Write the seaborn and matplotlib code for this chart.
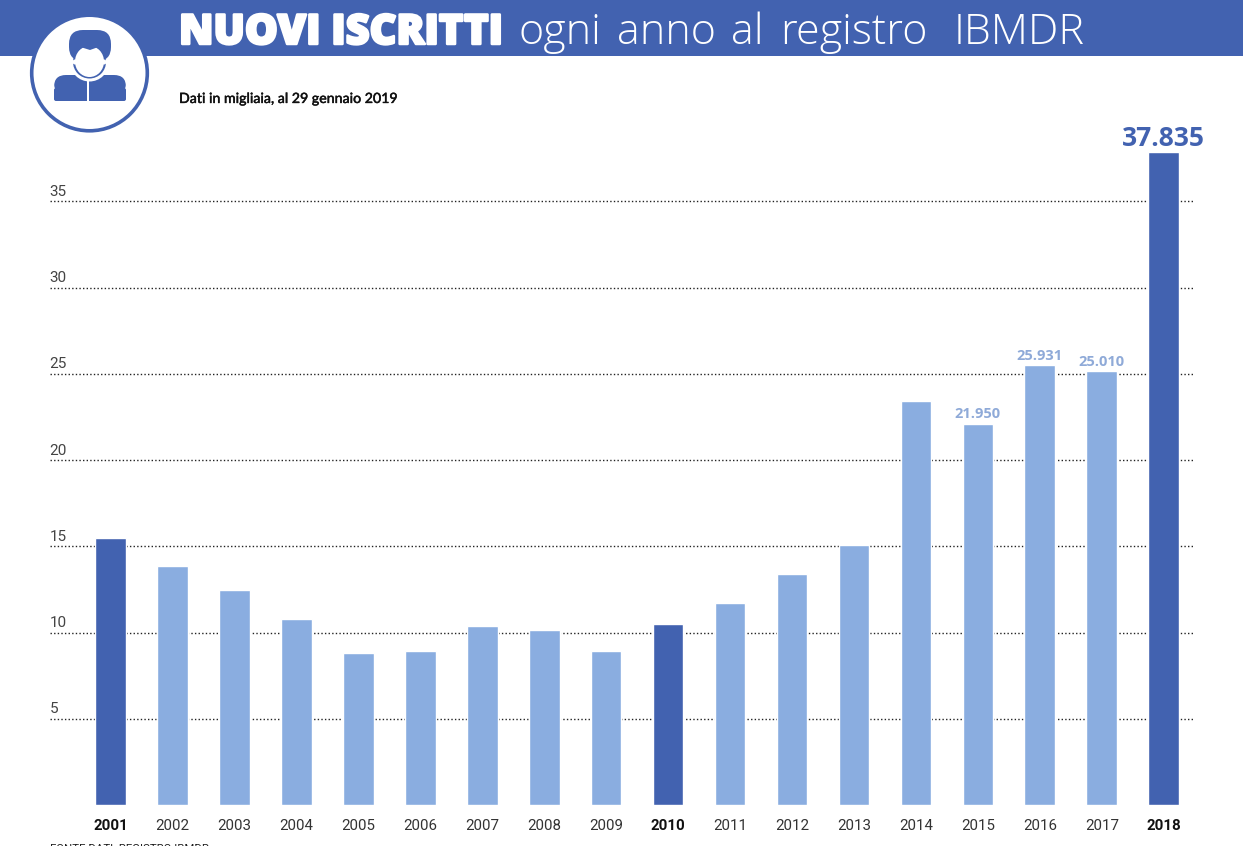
import matplotlib
matplotlib.use("Agg")
import matplotlib.pyplot as plt
import matplotlib.patches as mp
import matplotlib.patheffects as pe
from matplotlib.transforms import ScaledTranslation
import pandas as pd
import seaborn as sns

years = ["2001","2002","2003","2004","2005","2006","2007","2008","2009","2010","2011","2012","2013","2014","2015","2016","2017","2018"]
values = [15.46,13.83,12.44,10.76,8.79,8.90,10.35,10.12,8.90,10.47,11.69,13.37,15.10,23.40,22.10,25.50,25.15,37.86]
highlight_years = ["2001","2010","2018"]
y_ticks = [5,10,15,20,25,30,35]
value_labels = {"2015":"21.950","2016":"25.931","2017":"25.010"}
top_label = "37.835"
title_bold = "NUOVI ISCRITTI"
title_light = "ogni anno al registro IBMDR"
subtitle = "Dati in migliaia, al 29 gennaio 2019"
source = "FONTE DATI: REGISTRO IBMDR"

DARK = "#4262B0"
LIGHT = "#8AADE0"
W, H = 1243, 846

sns.set_theme(style="white")
plt.rcParams["font.family"] = ["Roboto", "DejaVu Sans"]

fig = plt.figure(figsize=(W/100, H/100), dpi=100, facecolor="white")

bg = fig.add_axes([0, 0, 1, 1], zorder=0)
bg.set_xlim(0, W); bg.set_ylim(H, 0); bg.axis("off")
bg.add_patch(mp.Rectangle((0, 0), W, 56, color=DARK, lw=0))

ax = fig.add_axes([49.5/W, (H-804.9)/H, (1195-49.5)/W, (804.9-145)/H], zorder=1)
ax.patch.set_alpha(0)
df = pd.DataFrame({"year": years, "value": values})
palette = {y: (DARK if y in highlight_years else LIGHT) for y in years}
sns.barplot(data=df, x="year", y="value", hue="year", palette=palette, legend=False,
            width=0.495, dodge=False, saturation=1, ax=ax, zorder=3)
ax.set_xlim(-0.985, 17.505)
ax.set_ylim(0, (804.9-145)/17.24)
ax.set_xlabel(""); ax.set_ylabel("")
sns.despine(ax=ax, left=True, bottom=True)
ax.set_yticks(y_ticks)
ax.set_yticklabels([str(t) for t in y_ticks])
ax.yaxis.grid(True, linestyle=(0, (1, 1.6)), color="#222222", linewidth=1.0, zorder=1)
ax.set_axisbelow(True)
ax.tick_params(axis="y", length=0, pad=0, labelsize=11, labelcolor="#444444")
lift = ScaledTranslation(0, 2.5/100, fig.dpi_scale_trans)
for t in ax.get_yticklabels():
    t.set_ha("left"); t.set_va("bottom")
    t.set_transform(t.get_transform() + lift)
ax.tick_params(axis="x", length=0, pad=10, labelsize=10.8, labelcolor="#333333")
for t in ax.get_xticklabels():
    if t.get_text() in highlight_years:
        t.set_fontweight("bold"); t.set_color("#111111")

for i, y in enumerate(years):
    if y in value_labels:
        ax.annotate(value_labels[y], (i, values[i]), xytext=(0, 2), textcoords="offset points",
                    ha="center", va="bottom", fontsize=10.5, fontweight="bold", color="#8FAAD8",
                    family=["Open Sans", "DejaVu Sans"], zorder=5)
ax.annotate(top_label, (17, values[-1]), xytext=(0, 0), textcoords="offset points",
            ha="center", va="bottom", fontsize=19, fontweight="bold", color=DARK,
            family=["Open Sans", "DejaVu Sans"], annotation_clip=False, zorder=5)

fg = fig.add_axes([0, 0, 1, 1], zorder=2)
fg.set_xlim(0, W); fg.set_ylim(H, 0); fg.axis("off"); fg.patch.set_alpha(0)
fg.add_patch(mp.Circle((89.5, 73), 57.8, facecolor="white", edgecolor=DARK, lw=2.6))
# shoulders
fg.add_patch(mp.FancyBboxPatch((54, 75), 72, 20, boxstyle="round,pad=0,rounding_size=12", color=DARK, lw=0))
fg.add_patch(mp.FancyBboxPatch((54, 88), 72, 13, boxstyle="round,pad=0,rounding_size=2", color=DARK, lw=0))
fg.add_patch(mp.Rectangle((87.5, 80), 1.6, 21, color="white", lw=0))
# head
fg.add_patch(mp.Ellipse((89.5, 63), 38, 37, color="white", lw=0))
fg.add_patch(mp.FancyBboxPatch((69, 30), 42, 31, boxstyle="round,pad=0,rounding_size=14", color=DARK, lw=0))
fg.add_patch(mp.Ellipse((89.5, 62), 33, 33, color=DARK, lw=0))
fg.add_patch(mp.Ellipse((89.5, 61.5), 29, 31, color="white", lw=0))
fg.add_patch(mp.Circle((75, 62), 2.5, color="white", lw=0))
fg.add_patch(mp.Circle((104, 62), 2.5, color="white", lw=0))
fg.add_patch(mp.Polygon([(74, 54), (82, 47.5), (90, 50), (97, 47.5), (105, 54), (105, 42), (74, 42)], color=DARK, lw=0))

def ptext(x, y, s, **kw):
    return fg.text(x, y, s, va="baseline", **kw)

ptext(179, 44, title_bold, color="white", fontsize=29.8, fontweight=800,
      family=["Open Sans", "DejaVu Sans"], path_effects=[pe.withStroke(linewidth=1.8, foreground="white")])
word_x = (519, 617, 731, 780, 954)
for word, x in zip(title_light.split(), word_x):
    ptext(x, 44, word, color="white", fontsize=31, fontweight="light",
          family=["Open Sans", "DejaVu Sans"])
ptext(179, 103, subtitle, color="#111111", fontsize=10.2, fontweight="medium",
      family=["Lato", "DejaVu Sans"], path_effects=[pe.withStroke(linewidth=0.25, foreground="#111111")])
ptext(50, 852.5, source, color="#222222", fontsize=8.2, family=["Roboto", "DejaVu Sans"])

fig.savefig("out.png", dpi=100)
